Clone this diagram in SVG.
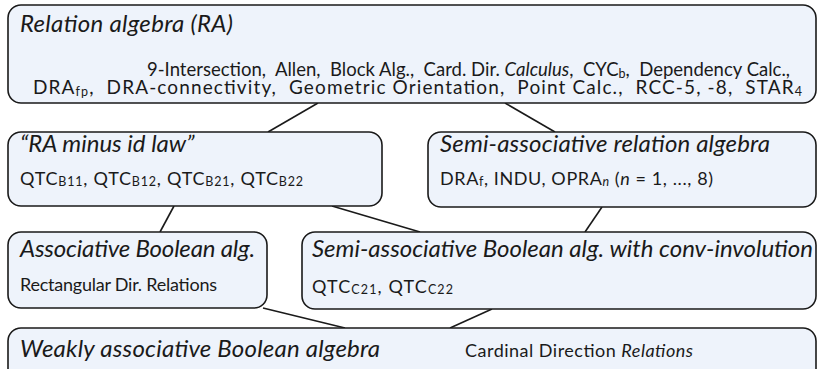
<svg xmlns="http://www.w3.org/2000/svg" width="819" height="369" viewBox="0 0 819 369">
<style>
.box{fill:#EEF3FB;stroke:#1a1a1a;stroke-width:1.6}
.edge{stroke:#1a1a1a;stroke-width:1.6;fill:none}
text{font-family:Lato,"Open Sans","Liberation Sans",sans-serif;fill:#1a1a1a}
.title{font-size:24px;font-style:italic}
.body{font-size:18px}
.sub{font-size:12.5px}
.it{font-style:italic}
</style>
<g id="connectors">
<line class="edge" x1="318" y1="103" x2="268" y2="132"/>
<line class="edge" x1="505" y1="103" x2="555" y2="132"/>
<line class="edge" x1="174" y1="206" x2="160" y2="232"/>
<line class="edge" x1="332" y1="206" x2="420" y2="232"/>
<line class="edge" x1="602" y1="207" x2="585" y2="232"/>
<line class="edge" x1="263" y1="308" x2="345" y2="328"/>
<line class="edge" x1="492" y1="309" x2="450" y2="328"/>
</g>
<g id="ra">
<rect class="box" x="8" y="5" width="808" height="98" rx="13"/>
<text class="title" x="20" y="32" textLength="213">Relation algebra (RA)</text>
<text class="body" x="147" y="76" textLength="643" style="font-size:18.5px" xml:space="preserve">9-Intersection,  Allen,  Block Alg.,  Card. Dir. <tspan class="it">Calculus</tspan>,  CYC<tspan class="sub" dy="2">b</tspan><tspan dy="-2">,  Dependency Calc.,</tspan></text>
<text class="body" x="33" y="94" textLength="769" style="font-size:19px" xml:space="preserve">DRA<tspan class="sub" dy="2">fp</tspan><tspan dy="-2">,  DRA-connectivity,  Geometric Orientation,  Point Calc.,  RCC-5, -8,  STAR</tspan><tspan class="sub" dy="2">4</tspan></text>
</g>
<g id="ra-minus-id">
<rect class="box" x="8" y="132" width="374" height="74" rx="13"/>
<text class="title" x="20" y="152">“RA minus id law”</text>
<text class="body" x="20" y="185" textLength="283">QTC<tspan class="sub" dy="1">B11</tspan><tspan dy="-1">, QTC</tspan><tspan class="sub" dy="1">B12</tspan><tspan dy="-1">, QTC</tspan><tspan class="sub" dy="1">B21</tspan><tspan dy="-1">, QTC</tspan><tspan class="sub" dy="1">B22</tspan></text>
</g>
<g id="semi-assoc-ra">
<rect class="box" x="428" y="132" width="388" height="75" rx="13"/>
<text class="title" x="440" y="152" textLength="330">Semi-associative relation algebra</text>
<text class="body" x="440" y="185" textLength="273">DRA<tspan class="sub" dy="1">f</tspan><tspan dy="-1">, INDU, OPRA</tspan><tspan class="sub it" dy="1">n</tspan><tspan dy="-1"> (</tspan><tspan class="it">n</tspan> = 1, ..., 8)</text>
</g>
<g id="assoc-boolean">
<rect class="box" x="8" y="232" width="259" height="76" rx="13"/>
<text class="title" x="20" y="257" textLength="235">Associative Boolean alg.</text>
<text class="body" x="20" y="291" textLength="197">Rectangular Dir. Relations</text>
</g>
<g id="semi-assoc-boolean">
<rect class="box" x="302" y="232" width="514" height="77" rx="13"/>
<text class="title" x="312" y="257" textLength="501">Semi-associative Boolean alg. with conv-involution</text>
<text class="body" x="312" y="293" textLength="141">QTC<tspan class="sub" dy="1">C21</tspan><tspan dy="-1">, QTC</tspan><tspan class="sub" dy="1">C22</tspan></text>
</g>
<g id="weakly-assoc">
<rect class="box" x="8" y="328" width="808" height="70" rx="13"/>
<text class="title" x="20" y="357" textLength="360">Weakly associative Boolean algebra</text>
<text class="body" x="465" y="357" textLength="228">Cardinal Direction <tspan class="it">Relations</tspan></text>
</g>
</svg>
